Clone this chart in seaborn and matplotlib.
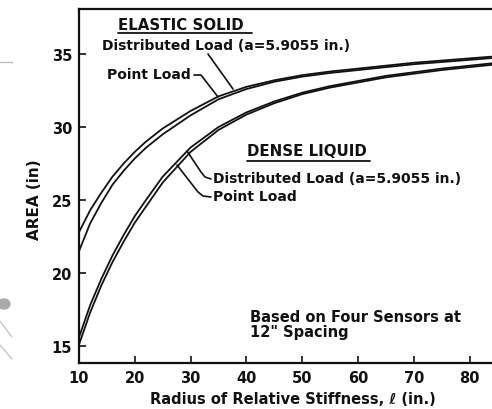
import numpy as np
import pandas as pd
import matplotlib
matplotlib.use("Agg")
import matplotlib.pyplot as plt
from matplotlib.lines import Line2D
from matplotlib.patches import Circle
import seaborn as sns

# ---- data ----
radius = [10, 12, 14, 16, 18, 20, 22, 25, 30, 35, 40, 45, 50, 55, 60, 65, 70, 75, 80, 85]
elastic_distributed = [22.8, 24.3, 25.5, 26.6, 27.5, 28.3, 29.0, 29.9, 31.1, 32.1, 32.75,
                       33.2, 33.55, 33.8, 34.0, 34.2, 34.4, 34.55, 34.7, 34.85]
elastic_point = [21.5, 23.4, 24.8, 26.05, 27.0, 27.85, 28.58, 29.5, 30.8, 31.9, 32.6,
                 33.1, 33.45, 33.7, 33.9, 34.1, 34.3, 34.45, 34.6, 34.75]
dense_distributed = [15.6, 17.8, 19.6, 21.2, 22.6, 23.9, 25.0, 26.6, 28.6, 30.0, 31.0,
                     31.75, 32.35, 32.8, 33.15, 33.5, 33.75, 34.0, 34.2, 34.4]
dense_point = [15.1, 17.3, 19.15, 20.75, 22.15, 23.45, 24.55, 26.2, 28.3, 29.8, 30.85,
               31.63, 32.25, 32.7, 33.05, 33.4, 33.65, 33.9, 34.1, 34.3]
x_ticks = [10, 20, 30, 40, 50, 60, 70, 80]
y_ticks = [15, 20, 25, 30, 35]

series = {
    "Elastic, distributed": elastic_distributed,
    "Elastic, point": elastic_point,
    "Dense, distributed": dense_distributed,
    "Dense, point": dense_point,
}
df = pd.concat(
    [pd.DataFrame({"radius": radius, "area": v, "series": k}) for k, v in series.items()],
    ignore_index=True,
)

sns.set_theme(style="ticks")
plt.rcParams["font.family"] = ["DejaVu Sans"]

W, H = 492, 410
fig = plt.figure(figsize=(W / 100, H / 100), dpi=100)
fig.patch.set_facecolor("white")

def fx(px):
    return px / W

def fy(py):
    return 1 - py / H

ax = fig.add_axes([fx(79), fy(364), fx(492) - fx(79), fy(10) - fy(364)])
ax.set_facecolor("white")

sns.lineplot(data=df, x="radius", y="area", hue="series", units="series",
             estimator=None, palette=["#111111"] * 4, linewidth=1.3,
             legend=False, ax=ax)

ax.set_xlim(10, 84)
ax.set_ylim(13.84, 38.08)
ax.set_xticks(x_ticks)
ax.set_yticks(y_ticks)
ax.set_xticklabels([str(t) for t in x_ticks], fontsize=10.5, fontweight="bold")
ax.set_yticklabels([str(t) for t in y_ticks], fontsize=10.5, fontweight="bold")
ax.tick_params(direction="in", length=5, width=1.2, colors="#111111", pad=5)
for s in ["left", "bottom", "top"]:
    ax.spines[s].set_linewidth(1.6)
    ax.spines[s].set_color("#111111")
ax.spines["right"].set_visible(False)

ax.set_xlabel("Radius of Relative Stiffness, \u2113 (in.)", fontsize=10.5, fontweight="bold",
              color="#111111")
ax.set_ylabel("AREA (in)", fontsize=11, fontweight="bold", color="#111111")
ax.xaxis.set_label_coords((293 - 79) / (492 - 79), -(392 - 364) / (364 - 10))
ax.yaxis.set_label_coords(-(79 - 42) / (492 - 79), (364 - 200) / (364 - 10))

tk = dict(fontweight="bold", color="#111111", va="center", ha="left",
          transform=fig.transFigure)
fig.text(fx(118), fy(25), "ELASTIC SOLID", fontsize=10.8, **tk)
fig.text(fx(102), fy(46), "Distributed Load (a=5.9055 in.)", fontsize=10, **tk)
fig.text(fx(107), fy(75), "Point Load", fontsize=10, **tk)
fig.text(fx(247), fy(152), "DENSE LIQUID", fontsize=10.8, **tk)
fig.text(fx(213), fy(179), "Distributed Load (a=5.9055 in.)", fontsize=10, **tk)
fig.text(fx(213), fy(197), "Point Load", fontsize=10, **tk)
fig.text(fx(250), fy(317), "Based on Four Sensors at", fontsize=10.5, **tk)
fig.text(fx(250), fy(332), "12\" Spacing", fontsize=10.5, **tk)

def pline(pts, lw=1.2, color="#111111"):
    xs = [fx(p[0]) for p in pts]
    ys = [fy(p[1]) for p in pts]
    fig.add_artist(Line2D(xs, ys, lw=lw, color=color, transform=fig.transFigure))

# underlines
pline([(118, 34), (252, 34)], lw=1.3)
pline([(247, 162), (370, 162)], lw=1.3)
# leaders
pline([(208, 55), (233, 90)])
pline([(194, 76), (201, 76), (218, 98)])
pline([(187, 152), (201, 173), (205, 178), (211, 180)])
pline([(177, 166), (198, 193), (203, 197), (211, 198)])

# page artefacts on the left edge
pline([(0, 63), (12, 63)], lw=1.0, color="#bbbbbb")
fig.add_artist(Circle((fx(4), fy(305)), radius=6 / W, transform=fig.transFigure,
                      color="#aaaaaa"))
pline([(0, 322), (12, 338)], lw=0.8, color="#bbbbbb")
pline([(0, 346), (12, 360)], lw=0.8, color="#bbbbbb")

fig.savefig("out.png", dpi=100, facecolor="white")
